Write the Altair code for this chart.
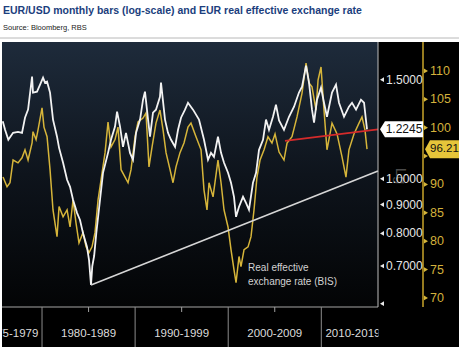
import altair as alt
import pandas as pd

# ---------------- text ----------------
title_text = "EUR/USD monthly bars (log-scale) and EUR real effective exchange rate"
source_text = "Source: Bloomberg, RBS"
annot_lines = ["Real effective", "exchange rate (BIS)"]

# ---------------- data ----------------
eurusd_years = [1975.78, 1976.03, 1976.38, 1976.89, 1977.42, 1977.85, 1978.17, 1978.50, 1978.93, 1979.03,
                1979.46, 1979.79, 1980.11, 1980.32, 1980.54, 1980.86, 1981.18, 1981.61, 1981.83, 1982.26,
                1982.69, 1983.01, 1983.33, 1983.76, 1984.08, 1984.40, 1984.83, 1985.05, 1985.26, 1985.40,
                1985.60, 1985.83, 1986.23, 1986.55, 1987.09, 1987.41, 1987.84, 1988.06, 1988.38, 1988.70,
                1989.02, 1989.45, 1989.77, 1990.10, 1990.53, 1990.85, 1991.06, 1991.39, 1991.60, 1991.92,
                1992.24, 1992.67, 1992.78, 1993.21, 1993.53, 1993.86, 1994.29, 1994.61, 1994.93, 1995.36,
                1995.68, 1996.22, 1996.86, 1997.40, 1997.83, 1998.15, 1998.47, 1998.90, 1999.23, 1999.55,
                1999.98, 2000.30, 2000.62, 2000.84, 2001.16, 2001.59, 2001.91, 2002.23, 2002.66, 2002.99,
                2003.31, 2003.74, 2004.06, 2004.38, 2004.81, 2005.13, 2005.46, 2005.99, 2006.53, 2007.07,
                2007.60, 2007.93, 2008.36, 2008.68, 2009.00, 2009.22, 2009.54, 2009.97, 2010.29, 2010.61,
                2011.15, 2011.58, 2011.90, 2012.44, 2012.97, 2013.30, 2013.73, 2014.26, 2014.59, 2014.91]
eurusd_values = [1.265, 1.222, 1.173, 1.207, 1.212, 1.207, 1.284, 1.327, 1.519, 1.423,
                 1.428, 1.470, 1.513, 1.482, 1.488, 1.423, 1.274, 1.188, 1.135, 1.068,
                 0.996, 0.968, 0.918, 0.870, 0.845, 0.801, 0.757, 0.717, 0.648, 0.700,
                 0.730, 0.801, 0.918, 1.025, 1.112, 1.173, 1.238, 1.316, 1.238, 1.140,
                 1.207, 1.112, 1.081, 1.207, 1.274, 1.382, 1.428, 1.274, 1.188, 1.311,
                 1.327, 1.399, 1.482, 1.274, 1.207, 1.173, 1.140, 1.222, 1.284, 1.327,
                 1.365, 1.327, 1.274, 1.173, 1.081, 1.112, 1.094, 1.188, 1.112, 1.068,
                 1.025, 0.984, 0.929, 0.856, 0.892, 0.929, 0.906, 0.881, 0.984, 1.025,
                 1.126, 1.173, 1.274, 1.222, 1.289, 1.354, 1.270, 1.222, 1.289, 1.343,
                 1.423, 1.458, 1.589, 1.482, 1.327, 1.258, 1.382, 1.452, 1.365, 1.289,
                 1.423, 1.470, 1.365, 1.289, 1.343, 1.365, 1.327, 1.382, 1.365, 1.2245]

reer_years = [1975.81, 1976.24, 1976.56, 1976.89, 1977.42, 1977.85, 1978.17, 1978.50, 1978.93, 1979.03,
              1979.36, 1979.57, 1980.00, 1980.21, 1980.54, 1980.86, 1981.18, 1981.61, 1981.83, 1982.26,
              1982.69, 1983.01, 1983.33, 1983.65, 1983.97, 1984.40, 1984.73, 1985.05, 1985.37, 1985.69,
              1986.02, 1986.34, 1986.77, 1987.09, 1987.41, 1987.84, 1988.16, 1988.49, 1988.92, 1989.24,
              1989.56, 1989.99, 1990.31, 1990.85, 1991.17, 1991.49, 1991.82, 1992.24, 1992.67, 1993.00,
              1993.32, 1993.75, 1994.07, 1994.39, 1994.82, 1995.25, 1995.68, 1996.00, 1996.54, 1997.08,
              1997.40, 1997.72, 1997.94, 1998.37, 1998.90, 1999.23, 1999.55, 1999.98, 2000.30, 2000.62,
              2000.84, 2001.16, 2001.37, 2001.70, 2002.13, 2002.45, 2002.77, 2003.09, 2003.42, 2003.85,
              2004.27, 2004.70, 2005.03, 2005.46, 2005.99, 2006.32, 2006.85, 2007.39, 2007.93, 2008.36,
              2008.68, 2009.00, 2009.43, 2009.65, 2009.97, 2010.29, 2010.61, 2011.15, 2011.69, 2012.22,
              2012.65, 2012.97, 2013.51, 2014.05, 2014.37, 2014.69, 2014.91]
reer_values = [91.3, 89.6, 90.3, 94.3, 93.8, 94.7, 96.1, 94.3, 97.3, 99.3,
               97.9, 99.6, 103.5, 100.1, 98.4, 92.6, 85.5, 80.8, 86.1, 84.3,
               85.5, 82.5, 87.3, 83.2, 79.7, 81.5, 79.0, 78.0, 79.0, 81.5,
               87.3, 90.8, 95.6, 101.0, 96.6, 97.9, 100.1, 92.6, 91.3, 90.3,
               92.6, 98.4, 101.0, 101.7, 102.6, 93.1, 96.6, 100.8, 103.1, 99.6,
               95.6, 92.6, 90.3, 93.1, 95.6, 97.3, 100.1, 100.8, 98.4, 96.1,
               89.0, 85.5, 90.3, 87.8, 94.3, 90.3, 85.5, 82.5, 78.5, 75.0,
               72.7, 77.3, 75.5, 78.5, 79.0, 80.8, 85.5, 91.3, 94.3, 96.1,
               98.4, 97.3, 98.9, 95.7, 94.3, 97.3, 98.4, 101.9, 106.1, 111.4,
               107.9, 107.2, 103.1, 108.4, 110.7, 103.1, 96.1, 100.8, 98.9, 94.9,
               91.3, 96.1, 98.9, 100.8, 101.9, 99.6, 96.21]

support_years = [1985.26, 2016.09]
support_values = [0.648, 1.033]
resist_years = [2006.10, 2016.09]
resist_values = [1.168, 1.2245]

decade_bounds = [1980, 1990, 2000, 2010]
mid_ticks = [1985, 1995, 2005]
decade_labels = ["1975-1979", "1980-1989", "1990-1999", "2000-2009", "2010-2019"]
decade_label_pos = [1976.65, 1985.0, 1995.0, 2005.0, 2013.4]

usd_ticks = [0.6, 0.7, 0.8, 0.9, 1.0, 1.5]
usd_tick_labels = ["", "0.7000", "0.8000", "0.9000", "1.0000", "1.5000"]
reer_ticks = [70, 75, 80, 85, 90, 95, 100, 105, 110]
# the 95 label sits under the last-value box in the reference
reer_tick_labels = ["70", "75", "80", "85", "90", "", "100", "105", "110"]

annot_year = 2002.13
annot_values = [0.694, 0.656]

# ---------------- layout / style ----------------
X_DOMAIN = [1975.70, 2016.09]
USD_DOMAIN = [0.592, 1.75]
REER_DOMAIN = [68.4, 115.1]
W, H = 376, 265
SANS = "Liberation Sans, Arial, sans-serif"
YELLOW = "#d6b53a"

one = pd.DataFrame({"k": [0]})
xs = alt.Scale(domain=X_DOMAIN, nice=False, zero=False)
X = alt.X("year:Q", scale=xs, axis=None)
usd_scale = alt.Scale(type="log", domain=USD_DOMAIN, nice=False)
reer_scale = alt.Scale(domain=REER_DOMAIN, nice=False, zero=False)
YU = alt.Y("v:Q", scale=usd_scale, axis=None)
YR = alt.Y("r:Q", scale=reer_scale, axis=None)

white_df = pd.DataFrame({"year": eurusd_years, "v": eurusd_values})
reer_df = pd.DataFrame({"year": reer_years, "r": reer_values})
support_df = pd.DataFrame({"year": support_years, "v": support_values})
resist_df = pd.DataFrame({"year": resist_years, "v": resist_values})
annot_df = pd.DataFrame({"year": [annot_year] * 2, "v": annot_values, "t": annot_lines})
sep_df = pd.DataFrame({"year": decade_bounds})
mid_df = pd.DataFrame({"year": mid_ticks})
lab_df = pd.DataFrame({"year": decade_label_pos, "t": decade_labels})
usd_tick_df = pd.DataFrame({"v": usd_ticks, "t": usd_tick_labels})
reer_tick_df = pd.DataFrame({"r": reer_ticks, "t": reer_tick_labels})
last_usd = pd.DataFrame({"v": [eurusd_values[-1]], "t": [f"{eurusd_values[-1]:.4f}"]})
last_reer = pd.DataFrame({"r": [reer_values[-1]], "t": [f"{reer_values[-1]:.2f}"]})

# ---------------- decoration ----------------
title_bg = alt.Chart(one).mark_rect(color="white").encode(
    x=alt.value(-2), x2=alt.value(457), y=alt.value(-42), y2=alt.value(0))
title = alt.Chart(one).mark_text(text=title_text, align="left", baseline="middle", font=SANS,
                                 fontSize=10.5, fontWeight="bold", color="#1b3e7d").encode(
    x=alt.value(1), y=alt.value(-31))
source = alt.Chart(one).mark_text(text=source_text, align="left", baseline="middle", font=SANS,
                                  fontSize=7.5, color="#222222").encode(
    x=alt.value(1), y=alt.value(-14))
sep_line = alt.Chart(one).mark_rule(color="#b8b8b8", strokeWidth=1).encode(
    x=alt.value(-2), x2=alt.value(457), y=alt.value(-4))

grad = alt.LinearGradient(gradient="linear", x1=0, x2=0, y1=0, y2=1,
                          stops=[alt.GradientStop(color="#1e2b3b", offset=0),
                                 alt.GradientStop(color="#0e141c", offset=0.5),
                                 alt.GradientStop(color="#030405", offset=1)])
plot_bg = alt.Chart(one).mark_rect(color=grad).encode(
    x=alt.value(0), x2=alt.value(W), y=alt.value(0), y2=alt.value(H))

band_line = alt.Chart(one).mark_rule(color="#a5a5a5", strokeWidth=1).encode(
    x=alt.value(0), x2=alt.value(W), y=alt.value(H))
seps = alt.Chart(sep_df).mark_rule(color="#8c8c8c", strokeWidth=1).encode(
    x=X, y=alt.value(H), y2=alt.value(H + 40))
mids = alt.Chart(mid_df).mark_rule(color="#a0a0a0", strokeWidth=1).encode(
    x=X, y=alt.value(H), y2=alt.value(H + 5))
labels = alt.Chart(lab_df).mark_text(font=SANS, fontSize=11.5, color="#dcdcdc",
                                     baseline="middle", align="center").encode(
    x=X, y=alt.value(H + 27), text="t:N")

# ---------------- yellow group (REER) ----------------
reer_line = alt.Chart(reer_df).mark_line(color=YELLOW, strokeWidth=1.5).encode(x=X, y=YR)
reer_domain = alt.Chart(one).mark_rule(color="#c9a42a", strokeWidth=1.5).encode(
    x=alt.value(W + 45), y=alt.value(0), y2=alt.value(H))
reer_tickmarks = alt.Chart(reer_tick_df).mark_point(
    shape="triangle-right", size=22, filled=True, color=YELLOW, opacity=1).encode(
    x=alt.value(W + 48), y=YR)
reer_ticklabels = alt.Chart(reer_tick_df).mark_text(
    font=SANS, fontSize=12.5, color="#d4b23c", align="left", baseline="middle").encode(
    x=alt.value(W + 52), y=YR, text="t:N")
reer_box = alt.Chart(last_reer).mark_point(
    shape="M -1 0 L -0.75 -0.45 L 1 -0.45 L 1 0.45 L -0.75 0.45 Z",
    size=1600, filled=True, fill="#e6c53a", opacity=1, strokeWidth=0).encode(
    x=alt.value(W + 67), y=YR)
reer_txt = alt.Chart(last_reer).mark_text(font=SANS, fontSize=11.5, color="#111111",
                                          align="left", baseline="middle").encode(
    x=alt.value(W + 52), y=YR, text="t:N")
yellow_group = alt.layer(reer_line, reer_domain, reer_tickmarks, reer_ticklabels, reer_box, reer_txt)

# ---------------- white group (EUR/USD) ----------------
usd_line = alt.Chart(white_df).mark_line(color="#f2f2f2", strokeWidth=1.8).encode(x=X, y=YU)
support = alt.Chart(support_df).mark_line(color="#d6d6d6", strokeWidth=1.6).encode(x=X, y=YU)
resist = alt.Chart(resist_df).mark_line(color="#d42b2b", strokeWidth=1.8).encode(x=X, y=YU)
usd_domain = alt.Chart(one).mark_rule(color="#bdbdbd", strokeWidth=1).encode(
    x=alt.value(W), y=alt.value(0), y2=alt.value(H))
usd_tickmarks = alt.Chart(usd_tick_df).mark_point(
    shape="triangle-left", size=22, filled=True, color="#e8e8e8", opacity=1).encode(
    x=alt.value(W + 4), y=YU)
usd_ticklabels = alt.Chart(usd_tick_df).mark_text(
    font=SANS, fontSize=12, color="#e6e6e6", align="left", baseline="middle").encode(
    x=alt.value(W + 8), y=YU, text="t:N")
usd_box = alt.Chart(last_usd).mark_point(
    shape="M -1 0 L -0.77 -0.372 L 1 -0.372 L 1 0.372 L -0.77 0.372 Z",
    size=1849, filled=True, fill="#ffffff", opacity=1, strokeWidth=0).encode(
    x=alt.value(W + 23.5), y=YU)
usd_txt = alt.Chart(last_usd).mark_text(font=SANS, fontSize=12, color="#111111",
                                        align="center", baseline="middle").encode(
    x=alt.value(W + 26), y=YU, text="t:N")
annot = alt.Chart(annot_df).mark_text(font=SANS, fontSize=10, color="#d2d2d2",
                                      align="left", baseline="middle").encode(
    x=X, y=YU, text="t:N")
white_group = alt.layer(usd_line, support, resist, usd_domain, usd_tickmarks, usd_ticklabels,
                        usd_box, usd_txt, annot)

# ---------------- overlays ----------------
clip_right = alt.Chart(one).mark_rect(color="black").encode(
    x=alt.value(W + 0.5), x2=alt.value(W + 83), y=alt.value(H + 1), y2=alt.value(H + 40))
left_strip = alt.Chart(one).mark_rect(color="white").encode(
    x=alt.value(-3), x2=alt.value(0), y=alt.value(0), y2=alt.value(H + 43))
bottom_strip = alt.Chart(one).mark_rect(color="white").encode(
    x=alt.value(-3), x2=alt.value(W + 83), y=alt.value(H + 40), y2=alt.value(H + 43))
lg = alt.Chart(one).mark_text(text="Lg", font=SANS, fontSize=15, color="#4a4a4a", angle=90,
                              align="center", baseline="middle").encode(
    x=alt.value(W + 23), y=alt.value(134))

chart = alt.layer(
    title_bg, title, source, sep_line, plot_bg, band_line, seps, mids, labels, lg,
    yellow_group, white_group, clip_right, left_strip, bottom_strip
).resolve_scale(y="independent").properties(
    width=W, height=H,
    autosize=alt.AutoSizeParams(type="none"),
    padding={"left": 2, "top": 42, "right": 81, "bottom": 43},
    background="#000000",
).configure_view(strokeWidth=0)

chart.save("out.html", embed_options={"renderer": "svg", "actions": False})
